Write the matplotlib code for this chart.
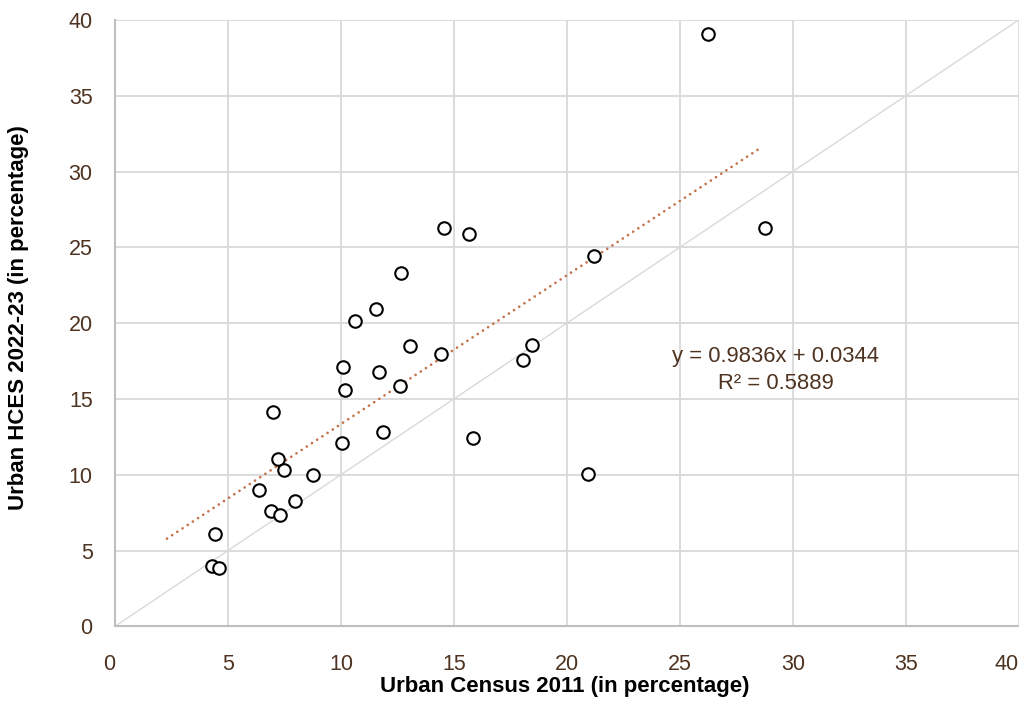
import numpy as np
import matplotlib
matplotlib.use("Agg")
import matplotlib.pyplot as plt

plt.rcParams['font.family'] = ['Liberation Sans', 'DejaVu Sans']

# Urban Census 2011 vs Urban HCES 2022-23 (percent)
census_2011 = [12.66, 11.56, 10.62, 13.07, 14.44, 10.09, 11.70, 10.20, 12.62, 6.99,
               11.87, 10.07, 15.83, 7.21, 7.49, 6.36, 8.78, 7.98, 6.89, 7.32,
               4.45, 4.31, 4.61, 14.55, 15.68, 21.20, 18.48, 18.04, 20.92, 26.27,
               28.78]
hces_2022 = [23.29, 20.92, 20.17, 18.50, 17.99, 17.13, 16.78, 15.59, 15.84, 14.14,
             12.84, 12.12, 12.41, 11.02, 10.32, 8.98, 9.97, 8.27, 7.59, 7.37,
             6.07, 4.00, 3.83, 26.30, 25.88, 24.45, 18.56, 17.57, 10.05, 39.08,
             26.26]

ticks = [0, 5, 10, 15, 20, 25, 30, 35, 40]
trend_range = [2.3, 28.6]
eq_text = "y = 0.9836x + 0.0344\nR\u00b2 = 0.5889"

text_col = '#4E3321'
grid_col = '#D9D9D9'
axis_col = '#BFBFBF'
trend_col = '#C4704A'

fig = plt.figure(figsize=(10.2, 7.08), dpi=100)
ax = fig.add_axes([0.1127, 0.1153, 0.886, 0.8565])

# y = x reference line
ax.plot([0, 40], [0, 40], color=grid_col, lw=1.0, zorder=1)

# linear trendline fitted to the points
slope, icpt = np.polyfit(census_2011, hces_2022, 1)
tx = np.array(trend_range)
ax.plot(tx, slope * tx + icpt, color=trend_col, lw=1.9,
        linestyle=(0, (0.05, 2.3)), dash_capstyle='round', zorder=2)

ax.plot(census_2011, hces_2022, 'o', markersize=9, markerfacecolor='white',
        markeredgecolor='black', markeredgewidth=1.5, linestyle='none', zorder=3)

ax.set_xlim(0, 40)
ax.set_ylim(0, 40)
ax.set_xticks(ticks)
ax.set_yticks(ticks)
ax.grid(True, color=grid_col, lw=1.3)
ax.set_axisbelow(True)
for s in ['top', 'right']:
    ax.spines[s].set_visible(False)
for s in ['left', 'bottom']:
    ax.spines[s].set_color(axis_col)
    ax.spines[s].set_linewidth(1.5)
ax.tick_params(length=0, labelsize=15.5, labelcolor=text_col)
ax.tick_params(axis='y', pad=16)
ax.tick_params(axis='x', pad=20)
xlabels = ax.get_xticklabels()
xlabels[0].set_horizontalalignment('right')
xlabels[-1].set_horizontalalignment('right')

ax.set_xlabel("Urban Census 2011 (in percentage)", fontsize=16, fontweight='bold')
ax.set_ylabel("Urban HCES 2022-23 (in percentage)", fontsize=16, fontweight='bold')
ax.xaxis.set_label_coords(0.498, -0.082)
ax.yaxis.set_label_coords(-0.095, 0.509)

ax.text(29.24, 16.9, eq_text, fontsize=15.8, color=text_col, ha='center',
        va='center', linespacing=1.35)

fig.savefig("out.png", dpi=100)
